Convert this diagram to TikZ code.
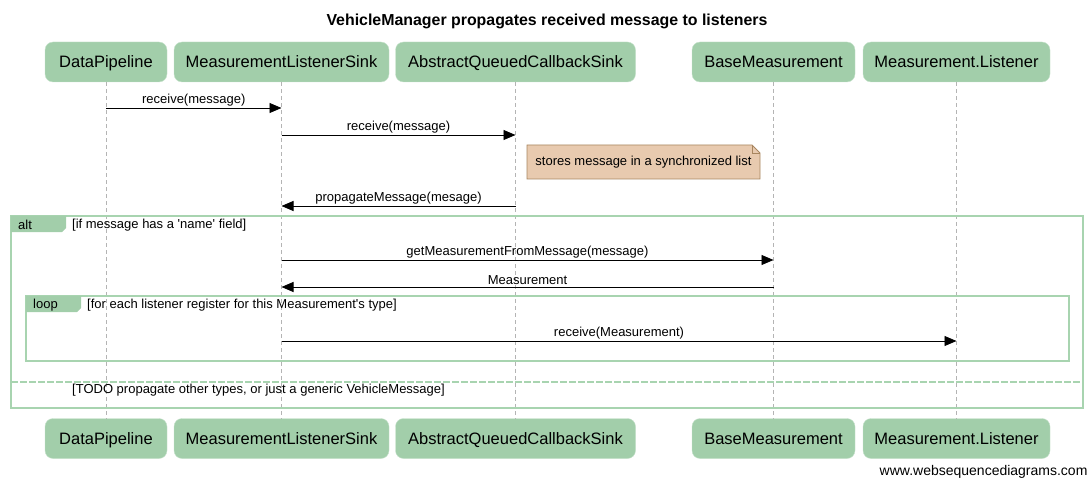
\documentclass[tikz,border=0pt]{standalone}
\usepackage{fontspec}
\setmainfont{Liberation Sans}[Ligatures=TeXOff]
\usetikzlibrary{arrows.meta}

\definecolor{boxgreen}{RGB}{162,206,170}
\definecolor{framegreen}{RGB}{168,212,176}
\definecolor{notefill}{RGB}{232,202,175}
\definecolor{noteline}{RGB}{168,134,96}
\definecolor{lifegray}{RGB}{180,180,180}

\tikzset{
    actor/.style={draw=boxgreen!60!white, fill=boxgreen, rounded corners=8pt, minimum height=40pt,
        inner sep=0pt, text height=12pt, text depth=0pt, font=\fontsize{16.5}{18}\selectfont},
    lifeline/.style={draw=lifegray, dash pattern=on 4pt off 3pt, line width=0.8pt},
    msg/.style={-{Triangle[length=12pt,width=10pt]}, line width=0.9pt},
    msglabel/.style={font=\fontsize{13}{15}\selectfont, inner sep=0pt},
    frameline/.style={draw=framegreen, line width=2pt},
}

\begin{document}
\begin{tikzpicture}[x=1pt,y=-1pt]
                \useasboundingbox (0,0) rectangle (1092,481);

                \node[font=\bfseries\fontsize{15.9}{18}\selectfont] at (547,21) (title) {VehicleManager propagates received message to listeners};

                % participants, top and bottom
                \node[actor, minimum width=122pt] at (106,62) (dp) {DataPipeline};
                \node[actor, minimum width=215pt] at (281.5,62) (mls) {MeasurementListenerSink};
                \node[actor, minimum width=240pt] at (515.5,62) (aqcs) {AbstractQueuedCallbackSink};
                \node[actor, minimum width=163pt] at (773.5,62) (bm) {BaseMeasurement};
                \node[actor, minimum width=187pt] at (956.5,62) (ml) {Measurement.Listener};

                \node[actor, minimum width=122pt] at (106,438.5) (dpb) {DataPipeline};
                \node[actor, minimum width=215pt] at (281.5,438.5) (mlsb) {MeasurementListenerSink};
                \node[actor, minimum width=240pt] at (515.5,438.5) (aqcsb) {AbstractQueuedCallbackSink};
                \node[actor, minimum width=163pt] at (773.5,438.5) (bmb) {BaseMeasurement};
                \node[actor, minimum width=187pt] at (956.5,438.5) (mlb) {Measurement.Listener};

                \draw[lifeline] (dp) -- (dpb);
                \draw[lifeline] (mls) -- (mlsb);
                \draw[lifeline] (aqcs) -- (aqcsb);
                \draw[lifeline] (bm) -- (bmb);
                \draw[lifeline] (ml) -- (mlb);

                % alt frame
                \draw[frameline] (11,216) rectangle (1083,408);
                \fill[boxgreen] (11,216) -- (66,216) -- (66,228) -- (62,232) -- (11,232) -- cycle;
                \node[msglabel, anchor=west] at (18,225) (altlbl) {alt};
                \node[msglabel, anchor=west] at (72,225.5) (altcond) {[if message has a 'name' field]};
                \draw[framegreen, line width=2.5pt, dash pattern=on 7pt off 2pt] (11,382) -- (1083,382);
                \node[msglabel, anchor=west] at (72,390.5) (elsecond) {[TODO propagate other types, or just a generic VehicleMessage]};

                % loop frame
                \draw[frameline] (26,296) rectangle (1069,361);
                \fill[boxgreen] (26,296) -- (81,296) -- (81,308) -- (77,312) -- (26,312) -- cycle;
                \node[msglabel, anchor=west] at (33,305.5) (looplbl) {loop};
                \node[msglabel, anchor=west] at (87,305.5) (loopcond) {[for each listener register for this Measurement's type]};

                % note
                \draw[fill=notefill, draw=noteline, line width=0.8pt] (527,145) -- (752,145) -- (760,153) -- (760,179) -- (527,179) -- cycle;
                \draw[noteline, line width=0.8pt] (752,145) -- (752,153) -- (760,153);
                \node[msglabel] at (643.5,162.5) (note) {stores message in a synchronized list};

                % message ends
                \coordinate (m1a) at (106,108);   \coordinate (m1b) at (281.5,108);
                \coordinate (m2a) at (281.5,135); \coordinate (m2b) at (515.5,135);
                \coordinate (m3a) at (515.5,206); \coordinate (m3b) at (281.5,206);
                \coordinate (m4a) at (281.5,260); \coordinate (m4b) at (773.5,260);
                \coordinate (m5a) at (773.5,287); \coordinate (m5b) at (281.5,287);
                \coordinate (m6a) at (281.5,341); \coordinate (m6b) at (956.5,341);

                \draw[msg] (m1a) --node[msglabel, above=1.5pt]{receive(message)} (m1b);
                \draw[msg] (m2a) --node[msglabel, above=1.5pt]{receive(message)} (m2b);
                \draw[msg] (m3a) --node[msglabel, above=1.5pt]{propagateMessage(mesage)} (m3b);
                \draw[msg] (m4a) --node[msglabel, above=1.5pt]{getMeasurementFromMessage(message)} (m4b);
                \draw[msg] (m5a) --node[msglabel, above=1.5pt]{Measurement} (m5b);
                \draw[msg] (m6a) --node[msglabel, above=1.5pt]{receive(Measurement)} (m6b);

                \node[anchor=east, font=\fontsize{14}{16}\selectfont] at (1091,472) (credit) {www.websequencediagrams.com};
            \end{tikzpicture}
\end{document}
